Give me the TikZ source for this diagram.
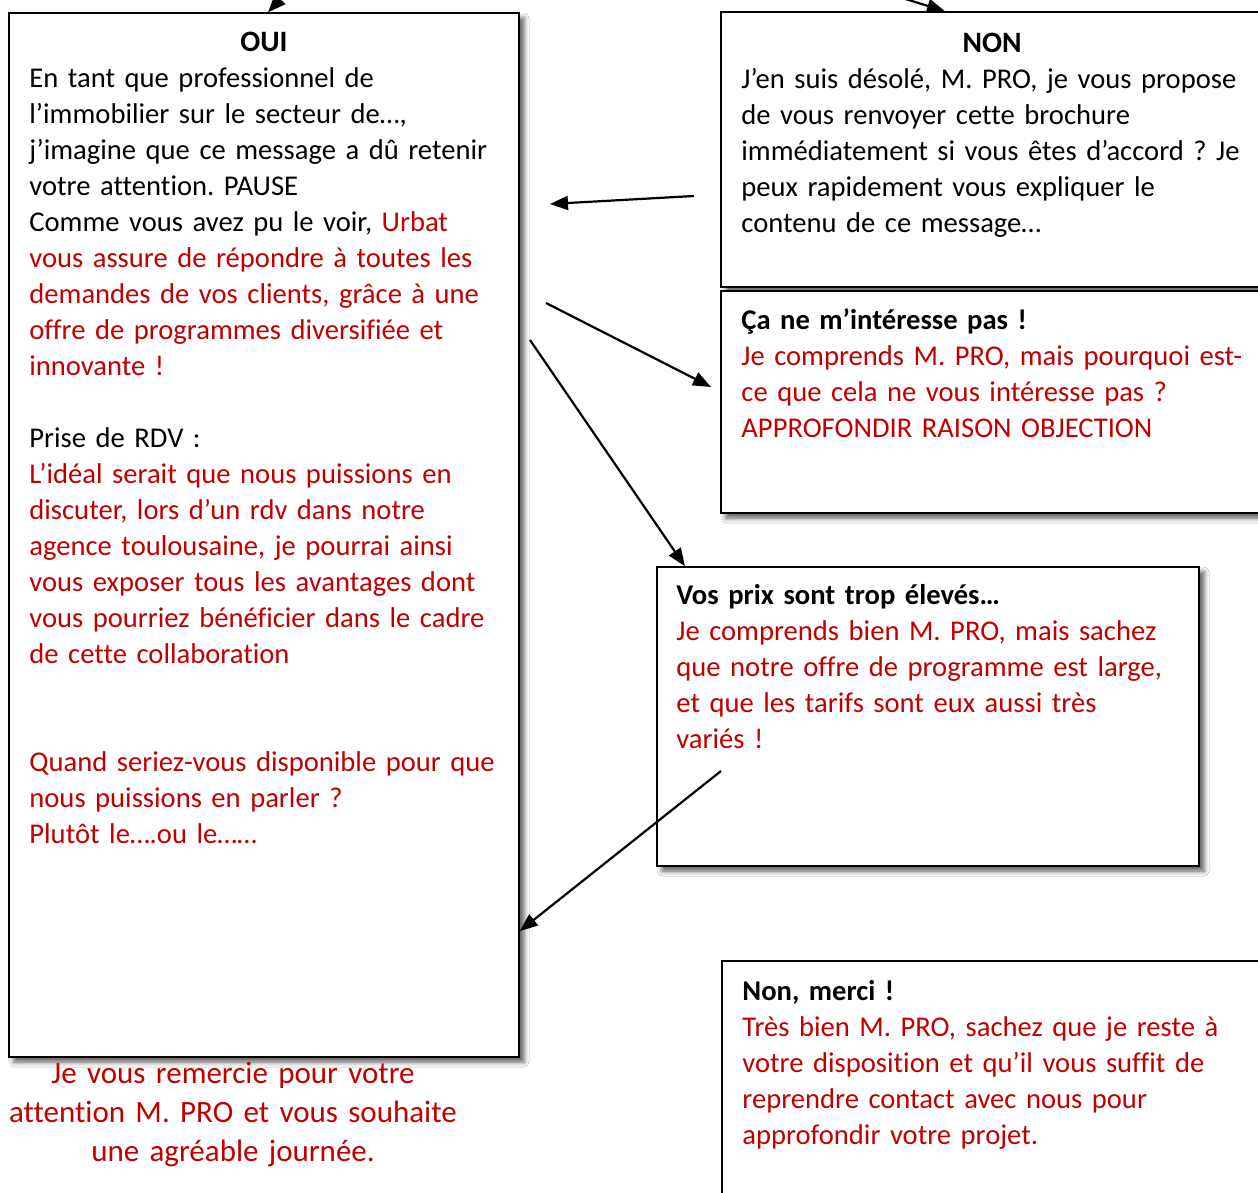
\documentclass[tikz,border=0pt]{standalone}
\usepackage{fontspec}
\setmainfont{Carlito}[Ligatures=NoCommon]
\usetikzlibrary{arrows.meta,fit,shadows.blur}
\definecolor{txtred}{RGB}{192,0,0}
\frenchspacing
\begin{document}
\begin{tikzpicture}[x=0.5pt,y=-0.5pt,
  box/.style={draw=black, line width=0.7pt, fill=white, inner sep=0pt,
    blur shadow={shadow xshift=2.5pt, shadow yshift=-2.5pt, shadow blur radius=2.5pt, shadow opacity=65}},
  txt/.style={anchor=north west, inner sep=0pt, text width=300pt, align=left,
    font=\frenchspacing\fontsize{14.3}{18}\selectfont},
  ttl/.style={anchor=base, inner sep=0pt, font=\bfseries\fontsize{14.8}{18}\selectfont},
  arr/.style={line width=1.1pt, -{Triangle[length=9pt,width=7pt]}}]
\useasboundingbox[fill=white] (0,0) rectangle (1258,1193);

% boxes
\node[box, fit={(9,13) (519,1057)}] (oui) {};
\node[box, fit={(721,12) (1268,287)}] (non) {};
\node[box, fit={(721,291) (1268,513)}] (ca) {};
\node[box, fit={(657,567) (1199,866)}] (prix) {};
\node[box, fit={(722,961) (1268,1210)}] (merci) {};

% texts
\node[ttl] (hOui) at (264,52) {OUI};
\node[txt] (tOui) at (29,61.8) {\strut En tant que professionnel de\\
l’immobilier sur le secteur de…,\\
j’imagine que ce message a dû retenir\\
votre attention. PAUSE\\
Comme vous avez pu le voir, {\color{txtred}Urbat}\\
{\color{txtred}vous assure de répondre à toutes les\\
demandes de vos clients, grâce à une\\
offre de programmes diversifiée et\\
innovante !}\\
\strut\\
Prise de RDV :\\
{\color{txtred}L’idéal serait que nous puissions en\\
discuter, lors d’un rdv dans notre\\
agence toulousaine, je pourrai ainsi\\
vous exposer tous les avantages dont\\
vous pourriez bénéficier dans le cadre\\
de cette collaboration\\
\strut\\
\strut\\
Quand seriez-vous disponible pour que\\
nous puissions en parler ?\\
Plutôt le….ou le……}};

\node[ttl] (hNon) at (992,53) {NON};
\node[txt] (tNon) at (741,62.8) {\strut J’en suis désolé, M. PRO, je vous propose\\
de vous renvoyer cette brochure\\
immédiatement si vous êtes d’accord ? Je\\
peux rapidement vous expliquer le\\
contenu de ce message…};

\node[txt] (tCa) at (741,303.8) {\strut\textbf{Ça ne m’intéresse pas !}\\
{\color{txtred}Je comprends M. PRO, mais pourquoi est-\\
ce que cela ne vous intéresse pas ?\\
APPROFONDIR RAISON OBJECTION}};

\node[txt] (tPrix) at (676,578.8) {\strut\textbf{Vos prix sont trop élevés…}\\
{\color{txtred}Je comprends bien M. PRO, mais sachez\\
que notre offre de programme est large,\\
et que les tarifs sont eux aussi très\\
variés !}};

\node[txt] (tMerci) at (742,974.8) {\strut\textbf{Non, merci !}\\
{\color{txtred}Très bien M. PRO, sachez que je reste à\\
votre disposition et qu’il vous suffit de\\
reprendre contact avec nous pour\\
approfondir votre projet.}};

\node[anchor=north, inner sep=0pt, text width=260pt, align=center,
  font=\frenchspacing\fontsize{15.5}{19.5}\selectfont, text=txtred] (tFin) at (233,1055.7)
  {\strut Je vous remercie pour votre\\ attention M. PRO et vous souhaite\\ une agréable journée.};

% connectors
\coordinate (a1s) at (300,-22);
\coordinate (a2s) at (867,-13);
\coordinate (a3s) at (694,196);
\coordinate (a3e) at (550,204);
\coordinate (a4s) at (546,303);
\coordinate (a4e) at (711,387);
\coordinate (a5s) at (530,340);
\coordinate (a6s) at (721,771);

\draw[arr] (a1s) -- (268,0 |- oui.north);
\draw[arr] (a2s) -- (945,0 |- non.north);
\draw[arr] (a3s) -- (a3e);
\draw[arr] (a4s) -- (a4e);
\draw[arr] (a5s) -- (685,0 |- prix.north);
\draw[arr] (a6s) -- (oui.east |- 0,931);
\end{tikzpicture}
\end{document}
